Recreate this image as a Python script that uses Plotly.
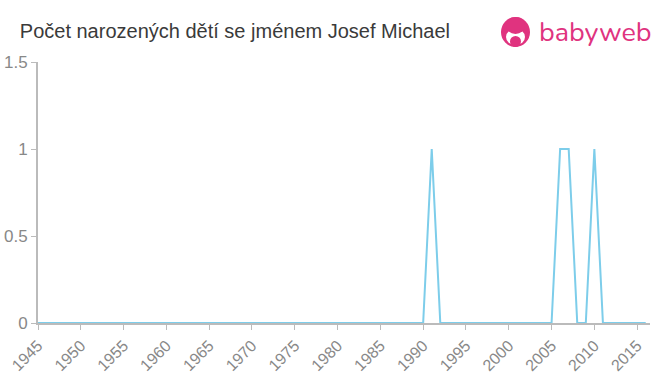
import plotly.graph_objects as go

years = list(range(1945, 2017))
counts_nonzero = {1991: 1, 2006: 1, 2007: 1, 2010: 1}
counts = [counts_nonzero.get(y, 0) for y in years]
x_ticks = list(range(1945, 2020, 5))
y_ticks = [0, 0.5, 1, 1.5]
y_tick_labels = ["0", "0.5", "1", "1.5"]
title = "Počet narozených dětí se jménem Josef Michael"

fig = go.Figure()
fig.add_trace(go.Scatter(x=years, y=counts, mode="lines",
                         line=dict(color="#7dcdea", width=2), hoverinfo="x+y"))

fig.update_layout(
    width=660, height=375,
    margin=dict(l=38, r=10, t=62, b=52),
    paper_bgcolor="white", plot_bgcolor="white",
    showlegend=False,
    font=dict(family="Liberation Sans, Arial, sans-serif", color="#888"),
    title=dict(text=title, x=0.03, xanchor="left", y=0.918, yanchor="middle",
               font=dict(size=20, color="#3a3a3a")),
    xaxis=dict(range=[1945, 2016.5], tickmode="array", tickvals=x_ticks,
               tickangle=-45, showgrid=False, zeroline=False, automargin=False,
               showline=True, linecolor="#bbb", linewidth=2,
               ticks="outside", tickcolor="#bbb", ticklen=5, tickwidth=1,
               tickfont=dict(size=16, color="#888")),
    yaxis=dict(range=[0, 1.5], tickmode="array", tickvals=y_ticks,
               ticktext=y_tick_labels, showgrid=False, zeroline=False, automargin=False,
               showline=True, linecolor="#bbb", linewidth=2,
               ticks="outside", tickcolor="#bbb", ticklen=5, tickwidth=1,
               tickfont=dict(size=17, color="#888")),
)

pink = "#e0337f"
pw = 660 - 38 - 10
ph = 375 - 62 - 52
def px(xp):
    return (xp - 38) / pw
def py(yp):
    return (375 - 52 - yp) / ph

fig.add_shape(type="circle", xref="paper", yref="paper",
              x0=px(501), x1=px(530), y0=py(47), y1=py(17),
              fillcolor=pink, line=dict(width=0))
fig.add_shape(type="circle", xref="paper", yref="paper",
              x0=px(506), x1=px(525), y0=py(45), y1=py(29),
              fillcolor="white", line=dict(width=0))
fig.add_shape(type="circle", xref="paper", yref="paper",
              x0=px(510), x1=px(521), y0=py(47), y1=py(36),
              fillcolor=pink, line=dict(width=0))
fig.add_shape(type="circle", xref="paper", yref="paper",
              x0=px(506), x1=px(525), y0=py(34), y1=py(17),
              fillcolor=pink, line=dict(width=0))
fig.add_annotation(text="babyweb", xref="paper", yref="paper",
                   x=px(537), y=py(33), xanchor="left", yanchor="middle",
                   showarrow=False,
                   font=dict(size=27, color=pink, family="Nunito, Lato, sans-serif"))

fig.write_html("out.html")
